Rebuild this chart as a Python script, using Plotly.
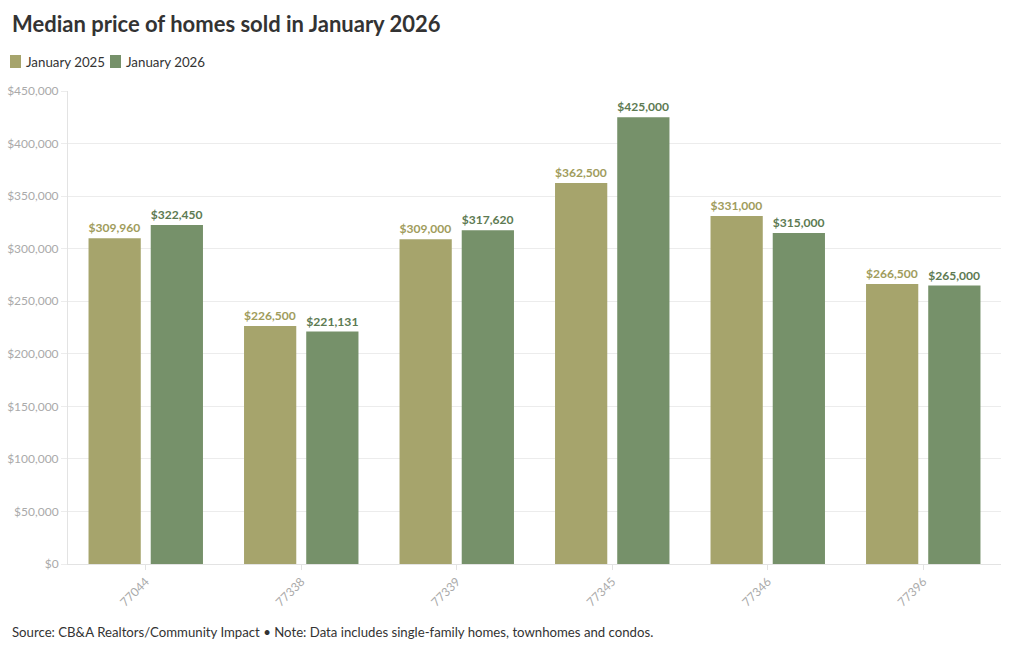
import plotly.graph_objects as go

zips = ["77044", "77338", "77339", "77345", "77346", "77396"]
jan_2025 = [309960, 226500, 309000, 362500, 331000, 266500]
jan_2026 = [322450, 221131, 317620, 425000, 315000, 265000]
series_names = ["January 2025", "January 2026"]
y_ticks = [0, 50000, 100000, 150000, 200000, 250000, 300000, 350000, 400000, 450000]
y_tick_text = ["$0", "$50,000", "$100,000", "$150,000", "$200,000", "$250,000",
               "$300,000", "$350,000", "$400,000", "$450,000"]

FONT = "Source Sans Pro, Lato, sans-serif"
bar_colors = ["#a6a46c", "#76916a"]
label_colors = ["#a09c5c", "#5d7a52"]

W, H = 1020, 650
ML, MR, MT, MB = 68, 19, 91, 86

fig = go.Figure()
for name, vals, bc, lc in zip(series_names, [jan_2025, jan_2026], bar_colors, label_colors):
    fig.add_trace(go.Bar(
        x=zips, y=vals, name=name,
        marker=dict(color=bc, line=dict(width=0)),
        texttemplate="$%{y:,}", textposition="outside",
        outsidetextfont=dict(family=FONT, size=13, color=lc, weight="bold"),
        cliponaxis=False,
        hovertemplate="%{x}: $%{y:,}<extra>" + name + "</extra>",
    ))

fig.update_layout(
    width=W, height=H,
    margin=dict(l=ML, r=MR, t=MT, b=MB, autoexpand=False),
    paper_bgcolor="white", plot_bgcolor="white",
    font=dict(family=FONT, color="#333"),
    barmode="group", bargap=0.2, bargroupgap=0.16,
    showlegend=False,
    xaxis=dict(
        type="category", tickangle=-45, automargin=False,
        tickfont=dict(size=12, color="#aaaaaa"),
        showline=True, linecolor="#e3e3e3", linewidth=1,
        ticks="outside", ticklen=5, tickcolor="#e3e3e3",
        showgrid=False,
    ),
    yaxis=dict(
        range=[0, 450000], tickvals=y_ticks, ticktext=y_tick_text,
        automargin=False,
        tickfont=dict(size=12, color="#aaaaaa"),
        gridcolor="#ececec", gridwidth=1,
        showline=True, linecolor="#e3e3e3", linewidth=1,
        ticks="outside", ticklen=6, tickcolor="#ececec",
        zeroline=False,
    ),
)

plot_w = W - ML - MR
plot_h = H - MT - MB
def px_x(px):
    return (px - ML) / plot_w
def px_y(py):
    return (H - MB - py) / plot_h

fig.add_annotation(
    text="<b>Median price of homes sold in January 2026</b>",
    x=px_x(10), y=px_y(24), xref="paper", yref="paper", showarrow=False,
    font=dict(family=FONT, size=22, color="#333333"),
    xanchor="left", yanchor="middle",
)

legend_items = [(series_names[0], bar_colors[0], 10), (series_names[1], bar_colors[1], 110)]
for name, col, lx in legend_items:
    fig.add_shape(type="rect", xref="paper", yref="paper",
                  x0=px_x(lx), x1=px_x(lx + 11), y0=px_y(68), y1=px_y(55),
                  fillcolor=col, line=dict(width=0), layer="above")
    fig.add_annotation(text=name, xref="paper", yref="paper",
                       x=px_x(lx + 14), y=px_y(62), showarrow=False,
                       xanchor="left", yanchor="middle",
                       font=dict(family=FONT, size=13.3, color="#333333"))

fig.add_annotation(
    text="Source: CB&A Realtors/Community Impact • Note: Data includes single-family homes, townhomes and condos.",
    xref="paper", yref="paper", x=px_x(10), y=px_y(632), showarrow=False,
    xanchor="left", yanchor="middle",
    font=dict(family=FONT, size=13.2, color="#333333"),
)

fig.write_html("out.html", config={"displayModeBar": False},
               post_script="document.body.style.margin='0';")
